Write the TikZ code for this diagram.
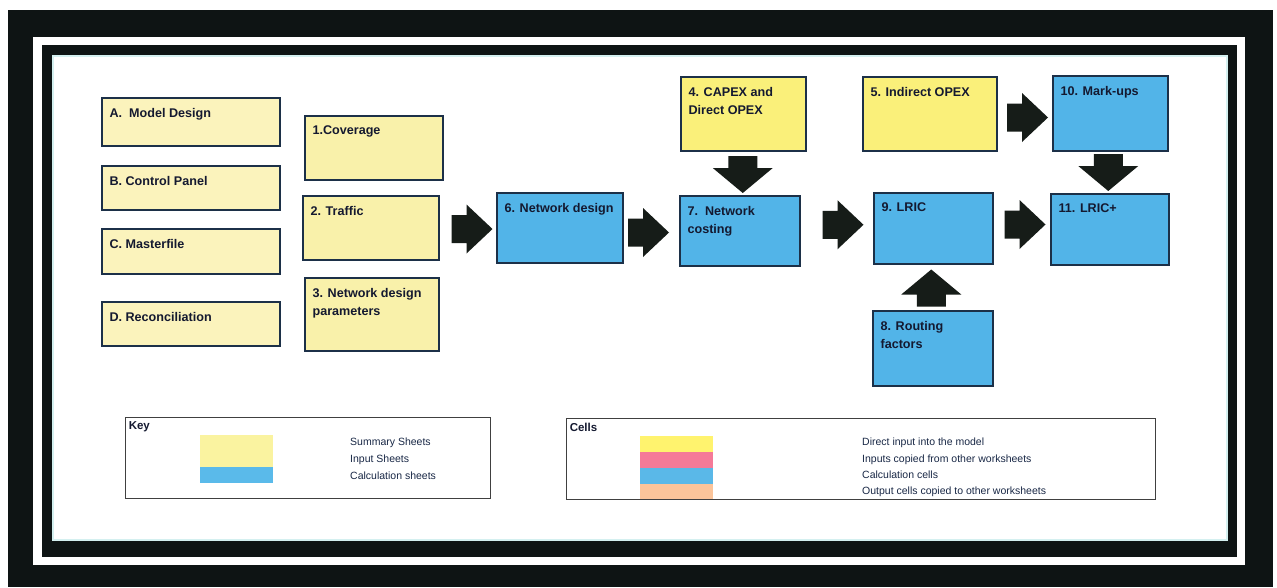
\documentclass[tikz,border=0pt]{standalone}
\usepackage{fontspec}
\setmainfont{Liberation Sans}
\usetikzlibrary{calc}
\definecolor{frameblk}{RGB}{14,20,20}
\definecolor{glowc}{RGB}{212,240,240}
\definecolor{sumyel}{RGB}{251,243,188}
\definecolor{inyel}{RGB}{249,241,170}
\definecolor{inyelb}{RGB}{250,240,122}
\definecolor{calcblue}{RGB}{82,180,232}
\definecolor{boxline}{RGB}{28,48,72}
\definecolor{txtc}{RGB}{20,25,48}
\definecolor{arrc}{RGB}{22,28,24}
\definecolor{legtxtc}{RGB}{25,40,70}
\definecolor{swyel}{RGB}{250,243,160}
\definecolor{swblue}{RGB}{90,186,234}
\definecolor{cyel}{RGB}{255,243,110}
\definecolor{cpink}{RGB}{245,122,152}
\definecolor{cblue}{RGB}{90,184,232}
\definecolor{cpeach}{RGB}{251,196,154}
\newcommand{\sheetnode}[7]{%
  \node[sheetbox, fill=#6, minimum width={#4-#2}, minimum height={#5-#3}] (#1) at ({(#2+#4)/2},{(#3+#5)/2}) {};
  \node[sheettext] (#1t) at ($(#1.north west)+(8,10.5)$) {#7};}
\begin{document}
\begin{tikzpicture}[x=1pt,y=-1pt,
  sheetbox/.style={draw=boxline, line width=1.3pt, inner sep=0pt},
  sheettext/.style={anchor=north west, inner sep=0pt, align=left, text=txtc,
    font=\fontsize{12.6}{18.5}\selectfont\bfseries},
  legbox/.style={draw=black!75, line width=0.9pt, inner sep=0pt},
  legtitle/.style={anchor=north west, inner sep=0pt, text=txtc,
    font=\fontsize{11.5}{13}\selectfont\bfseries},
  legtxt/.style={anchor=base west, inner sep=0pt, text=legtxtc,
    font=\fontsize{10.5}{12}\selectfont},
  harr/.pic={\fill[arrc] (-20.5,14) -- (-5.5,14) -- (-5.5,24.5) -- (20.5,0)
     -- (-5.5,-24.5) -- (-5.5,-14) -- (-20.5,-14) -- cycle;},
  varr/.pic={\fill[arrc] (-18.5,14.5) -- (-6.5,14.5) -- (-6.5,30) -- (18.5,0)
     -- (-6.5,-30) -- (-6.5,-14.5) -- (-18.5,-14.5) -- cycle;}]
\useasboundingbox (0,0) rectangle (1277,587);
% frame
\fill[white] (0,0) rectangle (1277,587);
\fill[frameblk] (8,10) rectangle (1273,587);
\fill[white] (33,37) rectangle (1245,565);
\fill[frameblk] (42,45) rectangle (1237,557);
\fill[white] (52,55) rectangle (1228,541);
\draw[glowc, line width=2pt] (53,56) rectangle (1227,540);
% summary sheets
\sheetnode{sA}{102}{98}{280}{146}{sumyel}{A.\ \ Model Design}
\sheetnode{sB}{102}{166}{280}{210}{sumyel}{B. Control Panel}
\sheetnode{sC}{102}{229}{280}{274}{sumyel}{C. Masterfile}
\sheetnode{sD}{102}{302}{280}{346}{sumyel}{D. Reconciliation}
% input sheets
\sheetnode{s1}{305}{116}{443}{180}{inyel}{1.Coverage}
\sheetnode{s2}{303}{196}{439}{260}{inyel}{2. Traffic}
\sheetnode{s3}{305}{278}{439}{351}{inyel}{3. Network design\\parameters}
\sheetnode{s4}{681}{77}{806}{151}{inyelb}{4. CAPEX and\\Direct OPEX}
\sheetnode{s5}{863}{77}{997}{151}{inyelb}{5. Indirect OPEX}
% calculation sheets
\sheetnode{s6}{497}{193}{623}{263}{calcblue}{6. Network design}
\sheetnode{s7}{680}{196}{800}{266}{calcblue}{7.\ \ Network\\costing}
\sheetnode{s8}{873}{311}{993}{386}{calcblue}{8. Routing\\factors}
\sheetnode{s9}{874}{193}{993}{264}{calcblue}{9. LRIC}
\sheetnode{s10}{1053}{76}{1168}{151}{calcblue}{10. Mark-ups}
\sheetnode{s11}{1051}{194}{1169}{265}{calcblue}{11. LRIC+}
% block arrows
\pic at ($(s2.east)!0.5!(s6.west)+(4,1)$) {harr};
\pic at ($(s6.east)!0.5!(s7.west)+(-3,3)$) {harr};
\pic at ($(s7.east)!0.5!(s9.west)+(6,-5)$) {harr};
\pic at ($(s9.east)!0.5!(s11.west)+(3,-4.5)$) {harr};
\pic at ($(s5.east)!0.5!(s10.west)+(2.5,3.75)$) {harr};
\pic[rotate=-90] at ($(s4.south)!0.5!(s7.north)+(1,1)$) {varr};
\pic[rotate=-90] at ($(s10.south)!0.5!(s11.north)+(-2,0)$) {varr};
\pic[rotate=90] at ($(s8.north)!0.5!(s9.south)+(-2,0.5)$) {varr};
% key legend
\node[legbox, minimum width=365, minimum height=81] (key) at (307.5,457.5) {};
\node[legtitle] (keyt) at ($(key.north west)+(4,5)$) {Key};
\fill[swyel] (200,435) rectangle (273,467);
\fill[swblue] (200,467) rectangle (273,483);
\node[legtxt] (k1) at (350,445) {Summary Sheets};
\node[legtxt] (k2) at (350,462) {Input Sheets};
\node[legtxt] (k3) at (350,479) {Calculation sheets};
% cells legend
\node[legbox, minimum width=589, minimum height=81] (cells) at (860.5,458.5) {};
\node[legtitle] (cellst) at ($(cells.north west)+(4,5)$) {Cells};
\fill[cyel] (640,436) rectangle (713,452);
\fill[cpink] (640,452) rectangle (713,468);
\fill[cblue] (640,468) rectangle (713,484);
\fill[cpeach] (640,484) rectangle (713,499);
\node[legtxt] (c1) at (862,445) {Direct input into the model};
\node[legtxt] (c2) at (862,462) {Inputs copied from other worksheets};
\node[legtxt] (c3) at (862,478) {Calculation cells};
\node[legtxt] (c4) at (862,494) {Output cells copied to other worksheets};
\end{tikzpicture}
\end{document}
